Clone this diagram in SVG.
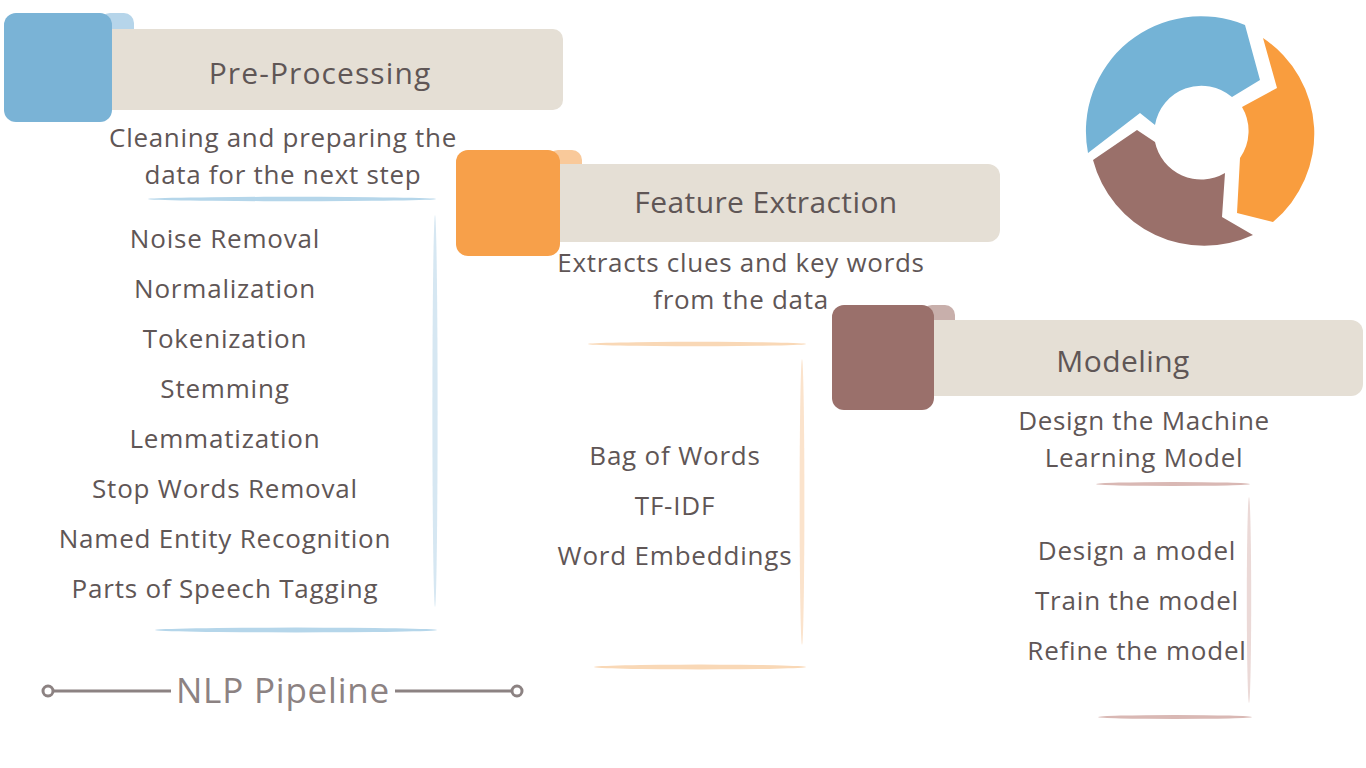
<svg xmlns="http://www.w3.org/2000/svg" width="1366" height="768" viewBox="0 0 1366 768">
<style>
.t{font-family:"Open Sans","Liberation Sans",sans-serif;fill:#5f5656;text-anchor:middle}
.h{font-size:30px;letter-spacing:1.1px}
.h2{font-size:30px;letter-spacing:0.4px}
.s{font-size:26px;letter-spacing:0.7px}
.i{font-size:26px;letter-spacing:0.8px}
.banner{fill:#e5dfd5}
</style>
<rect width="1366" height="768" fill="#ffffff"/>

<g id="cycle-icon">
<path d="M1088,153 A115,115 0 0 1 1245,25 L1260,80 L1232,97 A47,47 0 0 0 1155,125 L1140,113 Z" fill="#74b3d6"/>
<path d="M1263,38 A115,115 0 0 1 1273,222 L1237,213 L1240,158 A47,47 0 0 0 1242,107 L1277,88 Z" fill="#f99d3e"/>
<path d="M1253,235 A115,115 0 0 1 1093,160 L1137,130 L1155,142 A47,47 0 0 0 1225,173 L1222,217 Z" fill="#9a706a"/>
</g>

<g id="pre-processing">
<rect x="100" y="13" width="34" height="34" rx="10" fill="#b6d5ea"/>
<rect class="banner" x="100" y="29" width="463" height="81" rx="10"/>
<rect x="4" y="13" width="108" height="109" rx="12" fill="#7ab3d6"/>
<text class="t h" x="320" y="84">Pre-Processing</text>
<text class="t s" x="283" y="147">Cleaning and preparing the</text>
<text class="t s" x="283" y="184">data for the next step</text>
<ellipse cx="292" cy="199" rx="144" ry="2.2" fill="#b5d6ea"/>
<ellipse cx="435" cy="411" rx="2.6" ry="196" fill="#d6e7f2"/>
<ellipse cx="296" cy="630" rx="141" ry="2.4" fill="#b5d6ea"/>
<text class="t i" x="225" y="248">Noise Removal</text>
<text class="t i" x="225" y="298">Normalization</text>
<text class="t i" x="225" y="348">Tokenization</text>
<text class="t i" x="225" y="398">Stemming</text>
<text class="t i" x="225" y="448">Lemmatization</text>
<text class="t i" x="225" y="498">Stop Words Removal</text>
<text class="t i" x="225" y="548">Named Entity Recognition</text>
<text class="t i" x="225" y="598">Parts of Speech Tagging</text>
</g>

<g id="feature-extraction">
<rect x="548" y="150" width="34" height="34" rx="10" fill="#f9c99a"/>
<rect class="banner" x="548" y="164" width="452" height="78" rx="12"/>
<rect x="456" y="150" width="104" height="106" rx="12" fill="#f7a04a"/>
<text class="t h2" x="766" y="213">Feature Extraction</text>
<text class="t s" x="741" y="272">Extracts clues and key words</text>
<text class="t s" x="741" y="309">from the data</text>
<ellipse cx="697" cy="344" rx="109" ry="2.2" fill="#f9d8b6"/>
<ellipse cx="802" cy="502" rx="2.4" ry="143" fill="#fbe3cc"/>
<ellipse cx="700" cy="667" rx="106" ry="2.4" fill="#f9d8b6"/>
<text class="t i" x="675" y="465">Bag of Words</text>
<text class="t i" x="675" y="515">TF-IDF</text>
<text class="t i" x="675" y="565">Word Embeddings</text>
</g>

<g id="modeling">
<rect x="922" y="305" width="33" height="33" rx="10" fill="#c8afab"/>
<rect class="banner" x="922" y="320" width="441" height="76" rx="12"/>
<rect x="832" y="305" width="102" height="105" rx="12" fill="#9a706b"/>
<text class="t h2" x="1123" y="372">Modeling</text>
<text class="t s" x="1144" y="430">Design the Machine</text>
<text class="t s" x="1144" y="467">Learning Model</text>
<ellipse cx="1173" cy="484" rx="77" ry="2" fill="#d9b8b4"/>
<ellipse cx="1249" cy="600" rx="2.2" ry="103" fill="#ebd9d7"/>
<ellipse cx="1175" cy="717" rx="77" ry="2" fill="#d9b8b4"/>
<text class="t i" x="1137" y="560">Design a model</text>
<text class="t i" x="1137" y="610">Train the model</text>
<text class="t i" x="1137" y="660">Refine the model</text>
</g>

<g id="connectors">
<line x1="53" y1="691" x2="171" y2="691" stroke="#8c8282" stroke-width="3"/>
<line x1="395" y1="691" x2="512" y2="691" stroke="#8c8282" stroke-width="3"/>
<circle cx="48" cy="691" r="5" fill="#fff" stroke="#8c8282" stroke-width="3"/>
<circle cx="517" cy="691" r="5" fill="#fff" stroke="#8c8282" stroke-width="3"/>
</g>

<g id="title">
<text class="t" x="283" y="703" style="font-size:35px;letter-spacing:0.8px;fill:#8c8282">NLP Pipeline</text>
</g>
</svg>
